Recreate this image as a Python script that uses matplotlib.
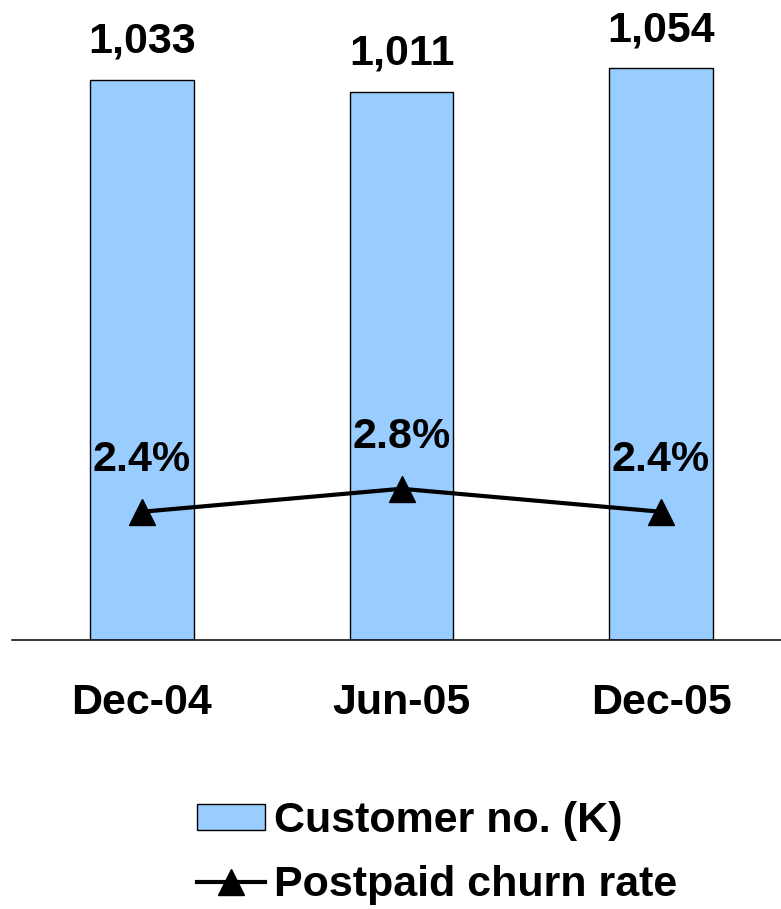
import matplotlib
matplotlib.use("Agg")
import matplotlib.pyplot as plt
from matplotlib.patches import Patch
from matplotlib.lines import Line2D

plt.rcParams['font.family'] = ['Liberation Sans', 'DejaVu Sans']
plt.rcParams['font.weight'] = 'bold'

# Data
periods = ["Dec-04", "Jun-05", "Dec-05"]
customers_k = [1033, 1011, 1054]
churn_pct = [2.4, 2.8, 2.4]

bar_color = "#99CCFF"
FS = 31

fig = plt.figure(figsize=(7.81, 9.09), dpi=100)
W, H = 781, 909
ax = fig.add_axes([12.25 / W, 1 - 640 / H, 778.5 / W, 640 / H])

x = list(range(len(periods)))
bars = ax.bar(x, customers_k, width=0.4, color=bar_color, edgecolor="black",
              linewidth=1.0, zorder=2)
ax.set_xlim(-0.5, 2.5)
ax.set_ylim(0, 1180)

for xi, v in zip(x, customers_k):
    ax.annotate(f"{v:,}", (xi, v), xytext=(0, 19.5), textcoords="offset points",
                ha="center", va="baseline", fontsize=FS, fontweight="bold")

ax.set_xticks(x)
ax.set_xticklabels(periods, fontsize=FS, fontweight="bold")
ax.tick_params(axis="x", length=0, pad=31)
ax.set_yticks([])
for s in ("top", "right", "left"):
    ax.spines[s].set_visible(False)
ax.spines["bottom"].set_linewidth(1.1)

# Churn rate on a secondary scale
ax2 = ax.twinx()
ax2.plot(x, churn_pct, color="black", linewidth=3, marker="^", markersize=18.5,
         zorder=3)
ax2.set_ylim(0.17, 11.3)
ax2.axis("off")
for xi, v in zip(x, churn_pct):
    ax2.annotate(f"{v:.1f}%", (xi, v), xytext=(0, 29), textcoords="offset points",
                 ha="center", va="baseline", fontsize=FS, fontweight="bold")

handles = [
    Patch(facecolor=bar_color, edgecolor="black", linewidth=1.0),
    Line2D([0], [0], color="black", linewidth=3, marker="^", markersize=18.5),
]
labels = ["Customer no. (K)", "Postpaid churn rate"]
fig.legend(handles, labels, loc="upper left", bbox_to_anchor=(197 / W, 1 - 801 / H),
           frameon=False, prop={"size": FS, "weight": "bold"},
           handlelength=1.58, handleheight=0.55, handletextpad=0.22,
           labelspacing=0.55, borderaxespad=0, borderpad=0)

fig.savefig("out.png", dpi=100)
